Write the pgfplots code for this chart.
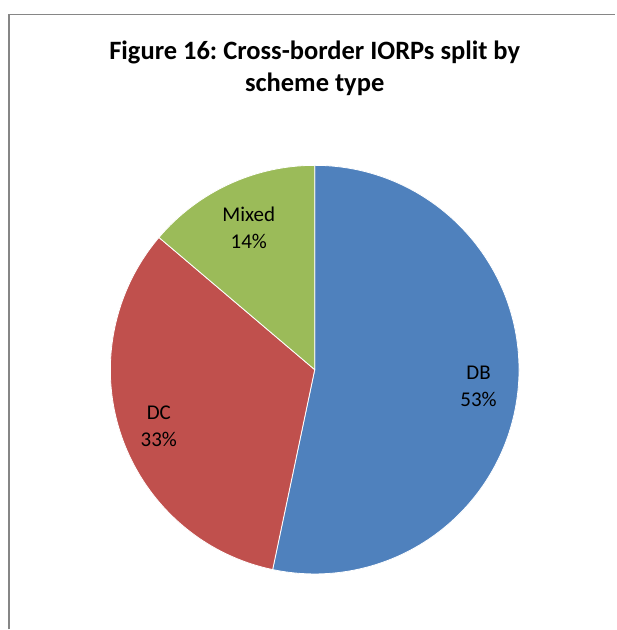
\documentclass[border=0pt]{standalone}
\usepackage{pgfplots}
\pgfplotsset{compat=1.18}
\usepackage{pgfplotstable}
\usepackage{fontspec}
\setmainfont{Carlito}
\frenchspacing
\definecolor{cDB}{HTML}{4F81BD}
\definecolor{cDC}{HTML}{C0504D}
\definecolor{cMX}{HTML}{9BBB59}
\definecolor{frame}{HTML}{868686}
\pgfplotstableread{
label value
DB 53.3
DC 32.9
Mixed 13.8
}\piedata
\pgfplotstablegetelem{0}{value}\of\piedata\let\vA\pgfplotsretval
\pgfplotstablegetelem{1}{value}\of\piedata\let\vB\pgfplotsretval
\pgfplotstablegetelem{2}{value}\of\piedata\let\vC\pgfplotsretval
\pgfmathsetmacro{\aZ}{90}
\pgfmathsetmacro{\aA}{\aZ-3.6*\vA}
\pgfmathsetmacro{\aB}{\aA-3.6*\vB}
\pgfmathsetmacro{\aC}{\aB-3.6*\vC}
\begin{document}
\begin{tikzpicture}
\begin{axis}[
  x=1pt, y=1pt, xmin=0, xmax=616, ymin=0, ymax=630,
  hide axis, clip=false, scale only axis,
]
\path[fill=white] (axis cs:0,0) rectangle (axis cs:616,630);
\draw[frame, line width=1.2pt] (axis cs:9,0) -- (axis cs:9,615.5) -- (axis cs:616,615.5);
% slices
\filldraw[fill=cDB, draw=white, line width=0.8pt] (axis cs:315,260) -- ++(\aZ:204.5pt) arc[start angle=\aZ, end angle=\aA, radius=204.5pt] -- cycle;
\filldraw[fill=cDC, draw=white, line width=0.8pt] (axis cs:315,260) -- ++(\aA:204.5pt) arc[start angle=\aA, end angle=\aB, radius=204.5pt] -- cycle;
\filldraw[fill=cMX, draw=white, line width=0.8pt] (axis cs:315,260) -- ++(\aB:204.5pt) arc[start angle=\aB, end angle=\aC, radius=204.5pt] -- cycle;
% title
\node[anchor=base, font=\fontsize{26.5}{32}\selectfont\bfseries] at (axis cs:315,570) {Figure 16: Cross-border IORPs split by};
\node[anchor=base, font=\fontsize{26.5}{32}\selectfont\bfseries] at (axis cs:315,538) {scheme type};
% labels
\node[anchor=base, font=\fontsize{21}{25}\selectfont] at (axis cs:479,250) {DB};
\node[anchor=base, font=\fontsize{21}{25}\selectfont] at (axis cs:479,223) {53\%};
\node[anchor=base, font=\fontsize{21}{25}\selectfont] at (axis cs:159,210) {DC};
\node[anchor=base, font=\fontsize{21}{25}\selectfont] at (axis cs:159,183) {33\%};
\node[anchor=base, font=\fontsize{21}{25}\selectfont] at (axis cs:249,408) {Mixed};
\node[anchor=base, font=\fontsize{21}{25}\selectfont] at (axis cs:249,381) {14\%};
\end{axis}
\end{tikzpicture}
\end{document}
